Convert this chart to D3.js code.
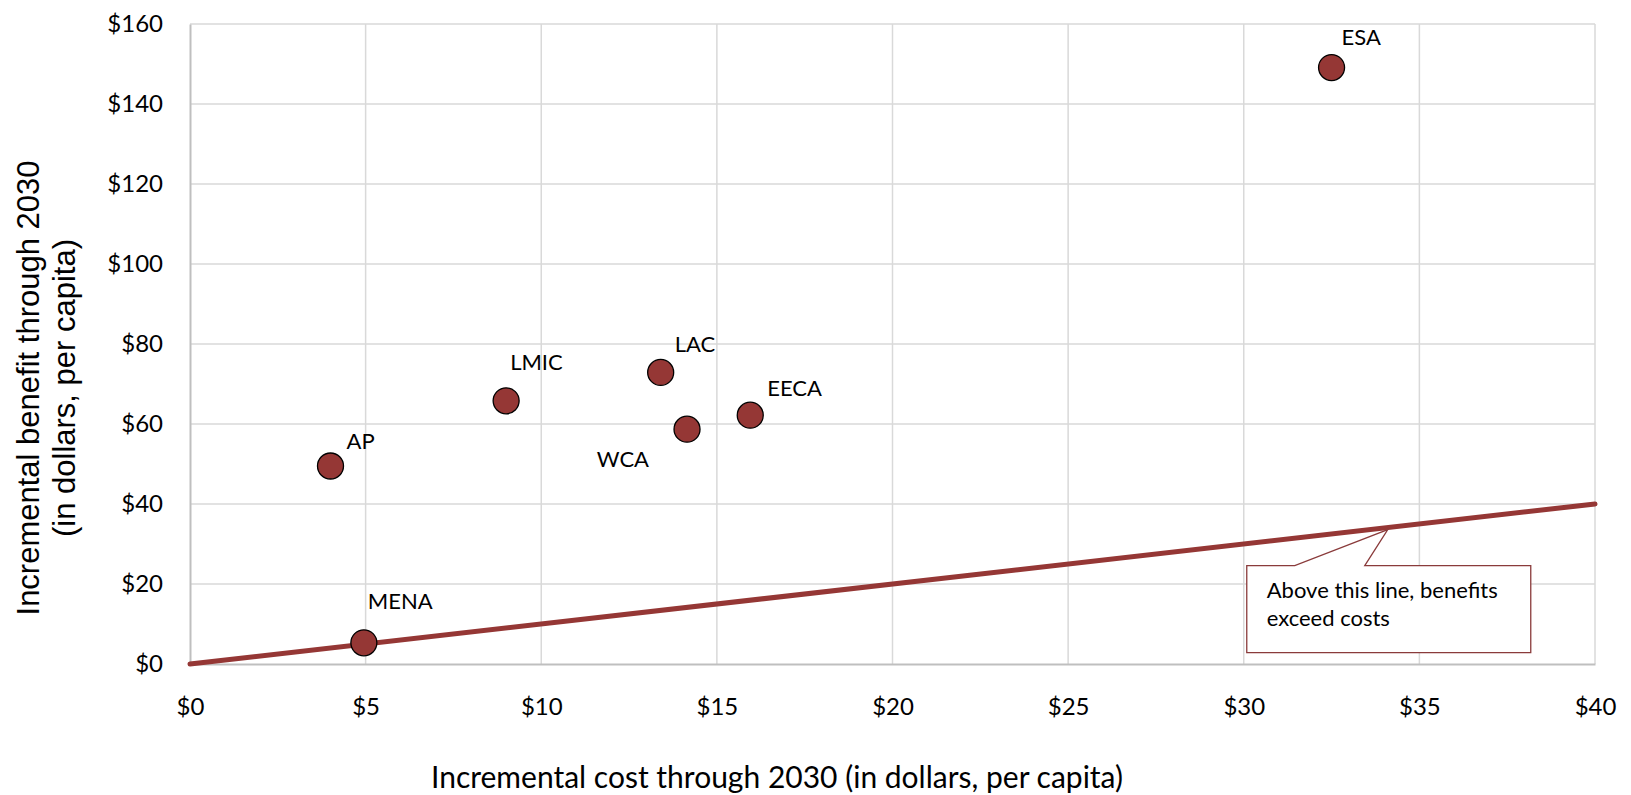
<!DOCTYPE html>
<html>
<head>
<meta charset="utf-8">
<script src="https://cdn.jsdelivr.net/npm/d3@7"></script>
<style>
  html, body { margin: 0; padding: 0; background: #ffffff; }
  svg { display: block; }
</style>
</head>
<body>
<svg id="chart" width="1631" height="795"></svg>
<script>
// Regions and their per-capita incremental cost / benefit through 2030
const regions = ["AP", "LMIC", "LAC", "WCA", "EECA", "ESA", "MENA"];
const costValues = [4.0, 9.0, 13.4, 14.15, 15.95, 32.5, 4.95];
const benefitValues = [49.5, 65.8, 72.9, 58.7, 62.2, 149.1, 5.3];

// Break-even line: benefit equals cost
const breakEvenX = [0, 40];
const breakEvenY = [0, 40];

// Axis ticks
const xTicks = [0, 5, 10, 15, 20, 25, 30, 35, 40];
const yTicks = [0, 20, 40, 60, 80, 100, 120, 140, 160];

// Text
const xTitle = "Incremental cost through 2030 (in dollars, per capita)";
const yTitleLines = ["Incremental benefit through 2030", "(in dollars, per capita)"];
const calloutLines = ["Above this line, benefits", "exceed costs"];
const calloutCost = 34.1; // point on the break-even line the callout points at

// Label placement (pixel offsets from each marker centre: left edge / baseline)
const labelOffsets = {
  AP:   { dx: 16,  dy: -17, anchor: "start" },
  LMIC: { dx: 4,   dy: -31, anchor: "start" },
  LAC:  { dx: 14,  dy: -20, anchor: "start" },
  WCA:  { dx: -38, dy: 38,  anchor: "end" },
  EECA: { dx: 17,  dy: -19, anchor: "start" },
  ESA:  { dx: 10,  dy: -23, anchor: "start" },
  MENA: { dx: 4,   dy: -34, anchor: "start" }
};

const W = 1631, H = 795;
const margin = { top: 24, right: 36, bottom: 131, left: 190 };
const innerW = W - margin.left - margin.right;
const innerH = H - margin.top - margin.bottom;

const labelFont = "Lato, 'Open Sans', sans-serif";
const dark = "#953735";

const svg = d3.select("#chart");
const g = svg.append("g").attr("transform", `translate(${margin.left},${margin.top})`);

const x = d3.scaleLinear().domain([0, 40]).range([0, innerW]);
const y = d3.scaleLinear().domain([0, 160]).range([innerH, 0]);

// Gridlines
g.append("g")
  .selectAll("line.vgrid")
  .data(xTicks.filter(t => t > 0))
  .join("line")
  .attr("x1", d => x(d)).attr("x2", d => x(d))
  .attr("y1", 0).attr("y2", innerH)
  .attr("stroke", "#d9d9d9").attr("stroke-width", 1.5);

g.append("g")
  .selectAll("line.hgrid")
  .data(yTicks.filter(t => t > 0))
  .join("line")
  .attr("x1", 0).attr("x2", innerW)
  .attr("y1", d => y(d)).attr("y2", d => y(d))
  .attr("stroke", "#d9d9d9").attr("stroke-width", 1.5);

// Axes
const fmt = d => "$" + d;
const xAxis = g.append("g")
  .attr("transform", `translate(0,${innerH})`)
  .call(d3.axisBottom(x).tickValues(xTicks).tickFormat(fmt).tickSize(0).tickPadding(34));
const yAxis = g.append("g")
  .call(d3.axisLeft(y).tickValues(yTicks).tickFormat(fmt).tickSize(0).tickPadding(27));

[xAxis, yAxis].forEach(ax => {
  ax.select(".domain").attr("stroke", "#bfbfbf").attr("stroke-width", 2);
  ax.selectAll("text")
    .attr("font-family", labelFont)
    .attr("font-size", 24)
    .attr("fill", "#000");
});

// Break-even line
const linePts = breakEvenX.map((v, i) => [v, breakEvenY[i]]);
g.append("path")
  .datum(linePts)
  .attr("d", d3.line().x(d => x(d[0])).y(d => y(d[1])))
  .attr("fill", "none")
  .attr("stroke", dark)
  .attr("stroke-width", 5)
  .attr("stroke-linecap", "round");

// Callout box with pointer onto the line
const tipX = x(calloutCost), tipY = y(calloutCost);
const box = { x0: tipX - 141, x1: tipX + 143, y0: tipY + 38, y1: tipY + 125 };
const pointerA = tipX - 93, pointerB = tipX - 23;
const calloutPath = d3.path();
calloutPath.moveTo(box.x0, box.y0);
calloutPath.lineTo(pointerA, box.y0);
calloutPath.lineTo(tipX, tipY + 2);
calloutPath.lineTo(pointerB, box.y0);
calloutPath.lineTo(box.x1, box.y0);
calloutPath.lineTo(box.x1, box.y1);
calloutPath.lineTo(box.x0, box.y1);
calloutPath.closePath();
g.append("path")
  .attr("d", calloutPath.toString())
  .attr("fill", "#ffffff")
  .attr("stroke", "#8a3b3b")
  .attr("stroke-width", 1.3);

g.append("text")
  .attr("font-family", labelFont)
  .attr("font-size", 22)
  .attr("fill", "#000")
  .selectAll("tspan")
  .data(calloutLines)
  .join("tspan")
  .attr("x", box.x0 + 20)
  .attr("y", (d, i) => box.y0 + 32 + i * 28.5)
  .text(d => d);

// Markers
const pts = regions.map((r, i) => ({ name: r, cost: costValues[i], benefit: benefitValues[i] }));
g.append("g")
  .selectAll("circle")
  .data(pts)
  .join("circle")
  .attr("cx", d => x(d.cost))
  .attr("cy", d => y(d.benefit))
  .attr("r", 13)
  .attr("fill", dark)
  .attr("stroke", "#000")
  .attr("stroke-width", 1.3);

// Region labels
g.append("g")
  .selectAll("text")
  .data(pts)
  .join("text")
  .attr("x", d => x(d.cost) + labelOffsets[d.name].dx)
  .attr("y", d => y(d.benefit) + labelOffsets[d.name].dy)
  .attr("text-anchor", d => labelOffsets[d.name].anchor)
  .attr("font-family", labelFont)
  .attr("font-size", 22)
  .attr("fill", "#000")
  .text(d => d.name);

// Axis titles
svg.append("text")
  .attr("x", 777)
  .attr("y", 788)
  .attr("text-anchor", "middle")
  .attr("font-family", labelFont)
  .attr("font-size", 30)
  .attr("fill", "#000")
  .text(xTitle);

const yTitle = svg.append("text")
  .attr("transform", "translate(0,388) rotate(-90)")
  .attr("text-anchor", "middle")
  .attr("font-family", "'Liberation Sans', Arial, sans-serif")
  .attr("font-size", 31)
  .attr("fill", "#000");
yTitle.selectAll("tspan")
  .data(yTitleLines)
  .join("tspan")
  .attr("x", 0)
  .attr("y", (d, i) => 39 + i * 36)
  .text(d => d);
</script>
</body>
</html>
